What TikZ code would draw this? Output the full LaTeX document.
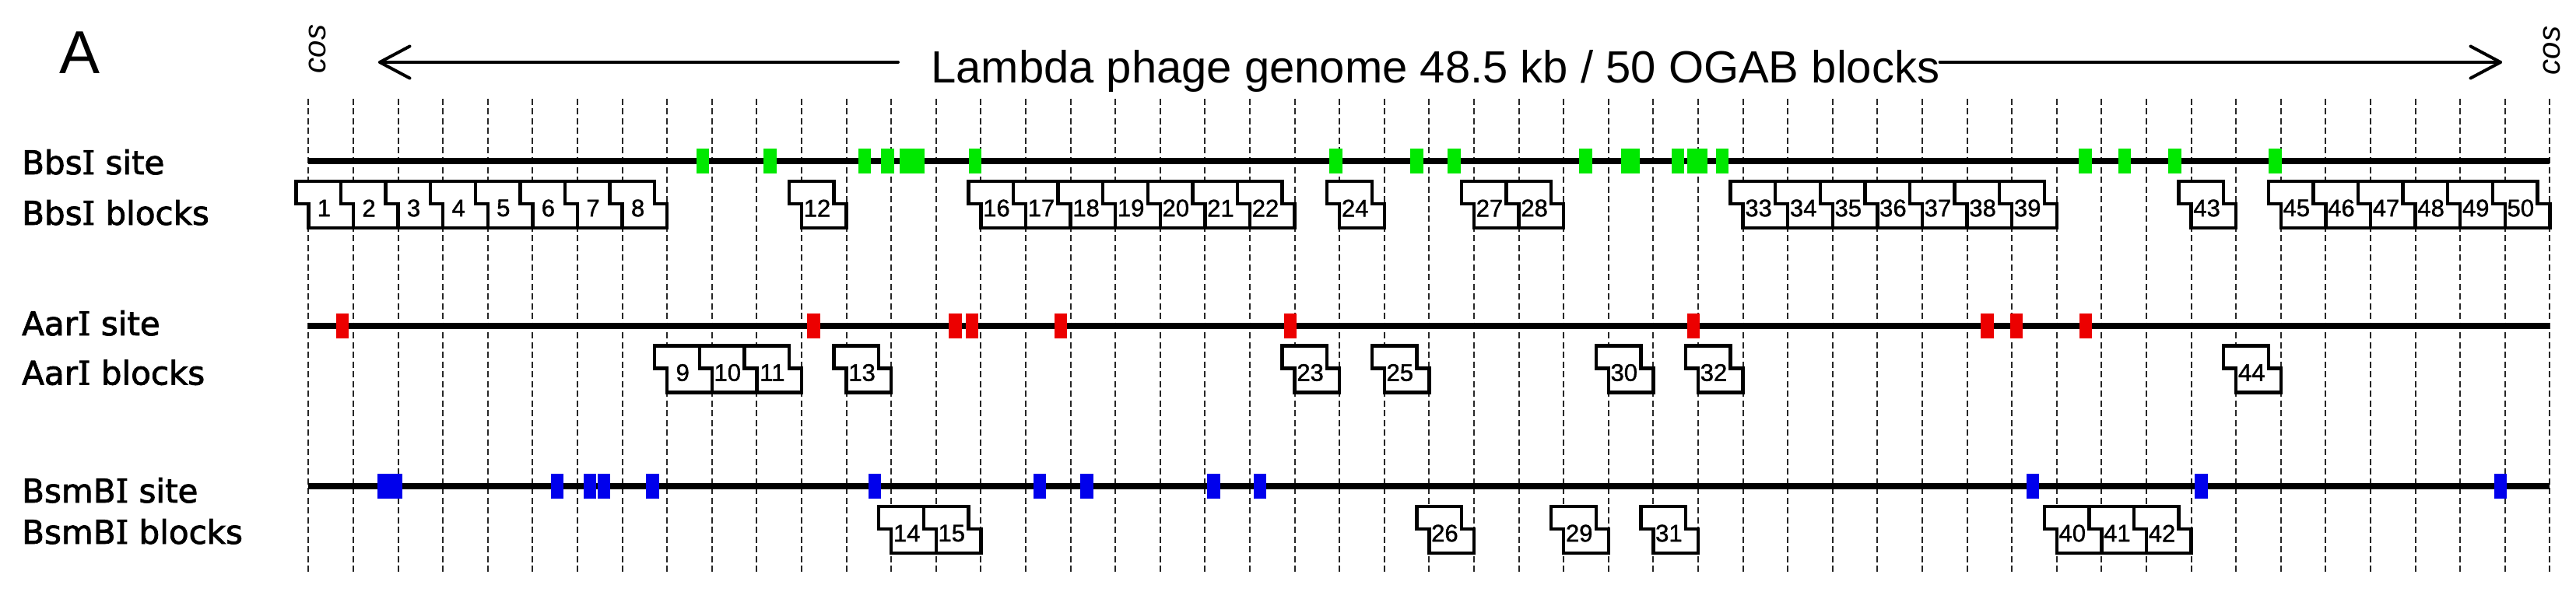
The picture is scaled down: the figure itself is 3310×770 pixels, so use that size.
\documentclass[tikz,border=0pt]{standalone}
\usepackage{fontspec}
\setmainfont{Liberation Sans}
\newfontfamily\lblfont{DejaVu Sans}[FakeBold=2]
\newfontfamily\serIfont{DejaVu Serif}[FakeBold=2]
\newfontfamily\numfont{Liberation Sans}[FakeBold=1.2]
\definecolor{sitegreen}{RGB}{0,232,0}
\definecolor{sitered}{RGB}{236,0,0}
\definecolor{siteblue}{RGB}{0,0,236}
\newcommand{\sI}{{\serIfont I}}
\newcommand{\sitemark}[4][16.5]{\fill[#2] ({#4-#1/2},{#3-16}) rectangle ({#4+#1/2},{#3+16});}
\newcommand{\blockchain}[3]{%
 \pgfmathsetmacro\xl{396.4+57.6*(#2-1)}%
 \pgfmathsetmacro\xr{396.4+57.6*(#3)}%
 \pgfmathsetmacro\yt{#1+26}%
 \pgfmathsetmacro\ys{#1+55}%
 \pgfmathsetmacro\yb{#1+86}%
 \draw[blockline] (\xl-16,\yt) -- (\xr-16,\yt) -- (\xr-16,\ys) -- (\xr,\ys) -- (\xr,\yb) -- (\xl,\yb) -- (\xl,\ys) -- (\xl-16,\ys) -- cycle;%
 \ifnum#2<#3\relax
  \pgfmathtruncatemacro\lastdiv{#3-1}%
  \foreach \k in {#2,...,\lastdiv}{\pgfmathsetmacro\xd{396.4+57.6*\k}\draw[divline] (\xd-16,\yt) -- (\xd-16,\ys) -- (\xd,\ys) -- (\xd,\yb);}%
 \fi
 \foreach \k in {#2,...,#3}{\pgfmathsetmacro\xn{396.4+57.6*(\k-1)+20}\node[num] (b\k) at (\xn,{#1+60.5}) {\k};}%
}
\begin{document}
\begin{tikzpicture}[x=1pt,y=-1pt,
 gridline/.style={line width=2pt, dash pattern=on 8pt off 4.5pt, black!85},
 siteline/.style={line width=8pt},
 blockline/.style={line width=4.5pt, fill=white, line join=miter},
 divline/.style={line width=4.5pt, line join=miter},
 num/.style={font=\numfont\fontsize{31}{32}\selectfont, inner sep=0pt},
 rowlabel/.style={font=\lblfont\fontsize{42}{44}\selectfont, anchor=base west, inner sep=0pt},
 arrowline/.style={line width=4pt, line cap=round, line join=round},
 coslabel/.style={font=\itshape\fontsize{40}{40}\selectfont, rotate=90, inner sep=0pt}]
\useasboundingbox (0,0) rectangle (3310,770);
\fill[white] (0,0) rectangle (3310,770);
% grid
\foreach \i in {0,...,50}{\pgfmathsetmacro\gx{396.4+57.6*\i}\draw[gridline] (\gx,127) -- (\gx,737);}
% header
\node[anchor=base west, inner sep=0pt, font=\fontsize{78}{80}\selectfont] (panel) at (76,95) {A};
\node[anchor=base west, inner sep=0pt, font=\fontsize{58}{60}\selectfont] (title) at (1196,107) {Lambda phage genome 48.5 kb / 50 OGAB blocks};
\node[coslabel] (cosL) at (408,63) {cos};
\node[coslabel] (cosR) at (3279,65) {cos};
\coordinate (tipL) at (488,80);
\coordinate (tipR) at (3213,80);
\coordinate (arrL) at ([xshift=-42pt]title.west);
\draw[arrowline] (arrL |- tipL) -- (tipL);
\draw[arrowline] (title.east |- tipR) -- (tipR);
\draw[arrowline] (tipL) ++(38.5,-20.5) -- (tipL) -- ++(38.5,20.5);
\draw[arrowline] (tipR) ++(-38.5,-20.5) -- (tipR) -- ++(-38.5,20.5);
% row labels
\node[rowlabel] (lbbs) at (28,224) {Bbs\sI{} site};
\node[rowlabel] (lbbsb) at (28,289) {Bbs\sI{} blocks};
\node[rowlabel] (laar) at (28,431) {Aar\sI{} site};
\node[rowlabel] (laarb) at (28,494.5) {Aar\sI{} blocks};
\node[rowlabel] (lbsm) at (28,646) {BsmB\sI{} site};
\node[rowlabel] (lbsmb) at (28,699) {BsmB\sI{} blocks};
% site lines
\foreach \y/\nm in {207/bbs,418.5/aar,625/bsm}{\coordinate (\nm L) at (396.4,\y); \coordinate (\nm R) at (3276.4,\y); \draw[siteline] (\nm L) -- (\nm R);}
% BbsI sites
\foreach \x in {903,989.5,1111,1140.5,1253,1716.6,1820.6,1868.5,2037.5,2156,2213,2679.6,2730,2794.6,2923.6}{\sitemark{sitegreen}{207}{\x}}
\sitemark[32]{sitegreen}{207}{1172}
\sitemark[24]{sitegreen}{207}{2095}
\sitemark[26]{sitegreen}{207}{2181}
% AarI sites
\foreach \x in {440,1045.5,1227.5,1249,1363,1658,2176,2553.6,2591,2680}{\sitemark{sitered}{418.5}{\x}}
% BsmBI sites
\foreach \x in {716,758,776,838.5,1124,1336,1396.5,1559.5,1619,2612,2828.6,3213}{\sitemark{siteblue}{625}{\x}}
\sitemark[32]{siteblue}{625}{501}
% BbsI blocks
\blockchain{207}{1}{8}
\blockchain{207}{12}{12}
\blockchain{207}{16}{22}
\blockchain{207}{24}{24}
\blockchain{207}{27}{28}
\blockchain{207}{33}{39}
\blockchain{207}{43}{43}
\blockchain{207}{45}{50}
% AarI blocks
\blockchain{418.5}{9}{11}
\blockchain{418.5}{13}{13}
\blockchain{418.5}{23}{23}
\blockchain{418.5}{25}{25}
\blockchain{418.5}{30}{30}
\blockchain{418.5}{32}{32}
\blockchain{418.5}{44}{44}
% BsmBI blocks
\blockchain{625}{14}{15}
\blockchain{625}{26}{26}
\blockchain{625}{29}{29}
\blockchain{625}{31}{31}
\blockchain{625}{40}{42}
\end{tikzpicture}
\end{document}
